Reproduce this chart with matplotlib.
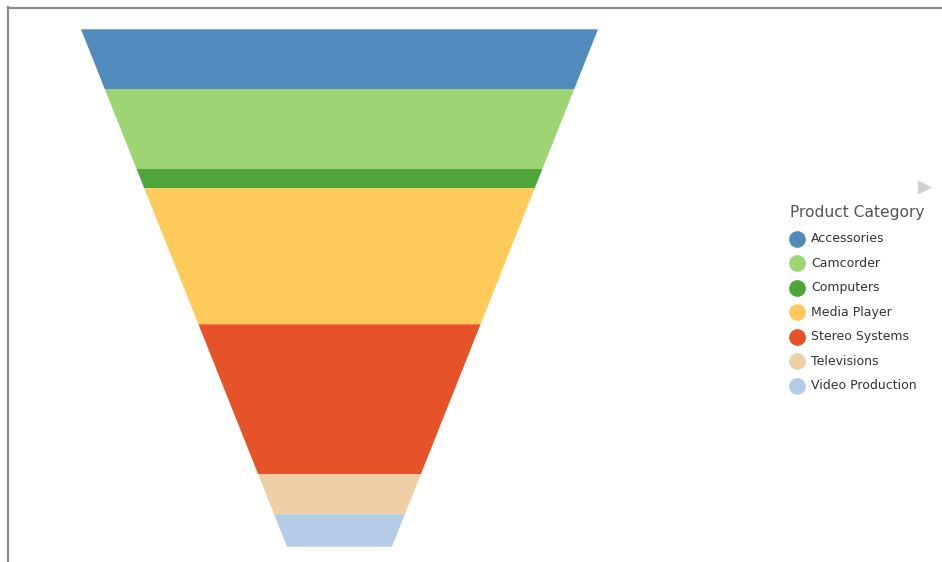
import matplotlib
matplotlib.use("Agg")
import matplotlib.pyplot as plt
from matplotlib.patches import Polygon
from matplotlib.lines import Line2D
import numpy as np

categories = ["Accessories", "Camcorder", "Computers", "Media Player",
              "Stereo Systems", "Televisions", "Video Production"]
values = [59.7, 80.0, 19.3, 136.0, 150.0, 40.0, 32.4]
colors = ["#518BBD", "#9DD574", "#4EA53A", "#FECB5A",
          "#E75329", "#EFCFA5", "#B3CDE6"]
legend_title = "Product Category"

W, H = 942, 562
fig = plt.figure(figsize=(W / 100, H / 100), dpi=100)

# frame (left and top gray lines)
fig.add_artist(Line2D([7.5 / W, 7.5 / W], [0, 1 - 6.5 / H], color="#8a8a8a", lw=1.6,
                      transform=fig.transFigure))
fig.add_artist(Line2D([7.5 / W, 1], [1 - 7.5 / H, 1 - 7.5 / H], color="#8a8a8a", lw=1.6,
                      transform=fig.transFigure))

# funnel axes
left_px, right_px, top_px, bot_px = 81, 598, 29.3, 546.7
ax = fig.add_axes([left_px / W, 1 - bot_px / H, (right_px - left_px) / W, (bot_px - top_px) / H])
total = sum(values)
neck = 0.203  # bottom width relative to top width
ax.set_xlim(-0.5, 0.5)
ax.set_ylim(total, 0)
ax.axis("off")

def half_width(y):
    return 0.5 * (1 - (1 - neck) * y / total)

cum = np.concatenate([[0], np.cumsum(values)])
for i, (v, c) in enumerate(zip(values, colors)):
    y0, y1 = cum[i], cum[i + 1]
    pts = [(-half_width(y0), y0), (half_width(y0), y0),
           (half_width(y1), y1), (-half_width(y1), y1)]
    ax.add_patch(Polygon(pts, closed=True, facecolor=c, edgecolor="none"))

# legend (manual)
fig.text(790 / W, 1 - 212.5 / H, legend_title, fontsize=11.2, color="#555555",
         va="center", ha="left", family="DejaVu Sans")
row0, step = 238.5, 24.55
for i, (cat, c) in enumerate(zip(categories, colors)):
    y = row0 + i * step
    fig.add_artist(Line2D([797 / W], [1 - y / H], marker="o", markersize=11,
                          markerfacecolor=c, markeredgecolor=c, linestyle="none",
                          transform=fig.transFigure))
    fig.text(811 / W, 1 - y / H, cat, fontsize=9, color="#333333",
             va="center", ha="left", family="DejaVu Sans")

# small scroll arrow
fig.add_artist(Line2D([924 / W], [1 - 187 / H], marker=">", markersize=9,
                      markerfacecolor="#d0d0d0", markeredgecolor="#d0d0d0",
                      linestyle="none", transform=fig.transFigure))

fig.savefig("out.png", dpi=100)
